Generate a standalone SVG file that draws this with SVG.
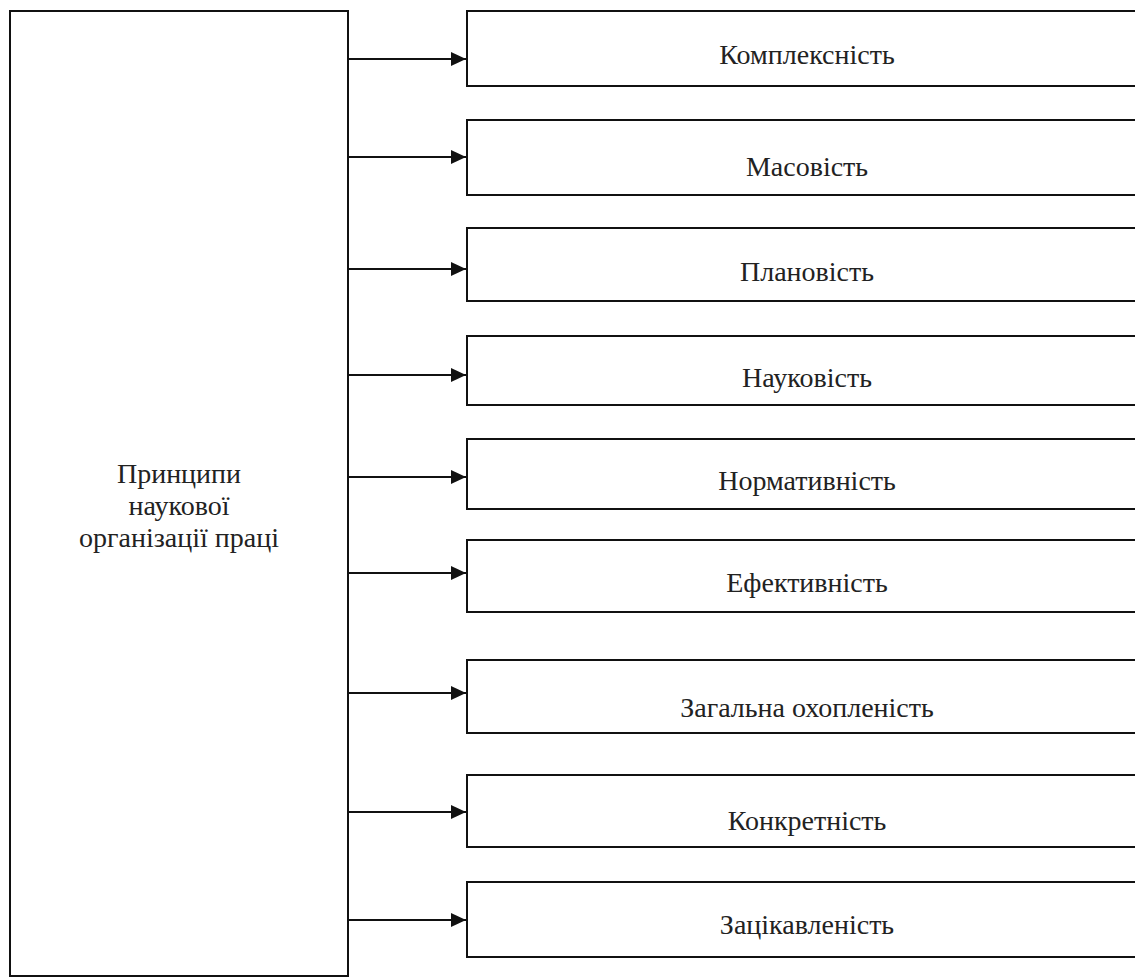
<svg xmlns="http://www.w3.org/2000/svg" width="1135" height="977" viewBox="0 0 1135 977">
<style>
.box{fill:#fff;stroke:#111;stroke-width:2}
.lbl{font-family:"Liberation Serif","Times New Roman",serif;font-size:28px;fill:#222;text-anchor:middle}
.con{stroke:#111;stroke-width:2;fill:none;marker-end:url(#ah)}
</style>
<defs>
<marker id="ah" markerWidth="15" markerHeight="14" refX="15" refY="7" orient="auto" markerUnits="userSpaceOnUse">
<path d="M0,0 L15,7 L0,14 Z" fill="#111"/>
</marker>
</defs>
<rect width="1135" height="977" fill="#fff"/>
<g id="main">
<rect class="box" x="10" y="11" width="338" height="965"/>
<text class="lbl" x="179" y="483">Принципи</text>
<text class="lbl" x="179" y="515">наукової</text>
<text class="lbl" x="179" y="547">організації праці</text>
</g>
<g id="n1"><rect class="box" x="467" y="11" width="700" height="75"/><text class="lbl" x="807" y="64">Комплексність</text></g>
<g id="n2"><rect class="box" x="467" y="120" width="700" height="75"/><text class="lbl" x="807" y="176">Масовість</text></g>
<g id="n3"><rect class="box" x="467" y="228" width="700" height="73"/><text class="lbl" x="807" y="281">Плановість</text></g>
<g id="n4"><rect class="box" x="467" y="336" width="700" height="69"/><text class="lbl" x="807" y="387">Науковість</text></g>
<g id="n5"><rect class="box" x="467" y="439" width="700" height="70"/><text class="lbl" x="807" y="490">Нормативність</text></g>
<g id="n6"><rect class="box" x="467" y="540" width="700" height="72"/><text class="lbl" x="807" y="592">Ефективність</text></g>
<g id="n7"><rect class="box" x="467" y="660" width="700" height="73"/><text class="lbl" x="807" y="717">Загальна охопленість</text></g>
<g id="n8"><rect class="box" x="467" y="775" width="700" height="72"/><text class="lbl" x="807" y="830">Конкретність</text></g>
<g id="n9"><rect class="box" x="467" y="882" width="700" height="75"/><text class="lbl" x="807" y="934">Зацікавленість</text></g>
<g id="connectors">
<line class="con" x1="348" y1="59" x2="466" y2="59"/>
<line class="con" x1="348" y1="157" x2="466" y2="157"/>
<line class="con" x1="348" y1="269" x2="466" y2="269"/>
<line class="con" x1="348" y1="375" x2="466" y2="375"/>
<line class="con" x1="348" y1="477" x2="466" y2="477"/>
<line class="con" x1="348" y1="573" x2="466" y2="573"/>
<line class="con" x1="348" y1="693" x2="466" y2="693"/>
<line class="con" x1="348" y1="812" x2="466" y2="812"/>
<line class="con" x1="348" y1="920" x2="466" y2="920"/>
</g>
</svg>
